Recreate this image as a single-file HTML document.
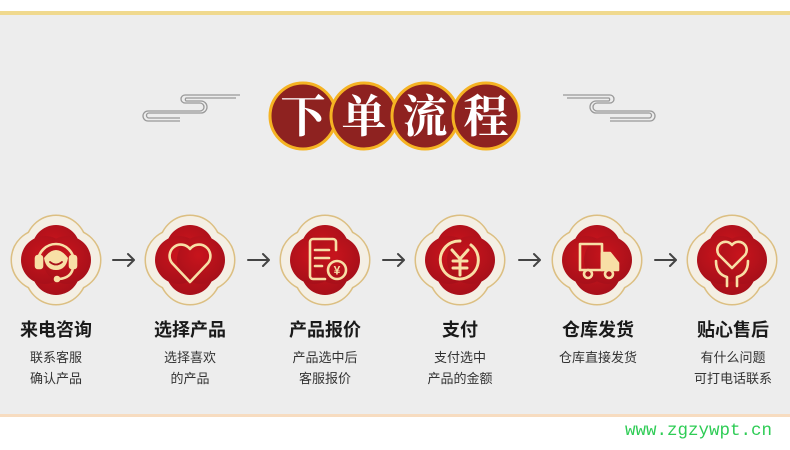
<!DOCTYPE html>
<html><head><meta charset="utf-8"><style>
body{margin:0;width:790px;height:450px;background:#fff;position:relative;overflow:hidden;font-family:"Liberation Sans","Noto Sans CJK SC",sans-serif}
.bg{position:absolute;left:0;top:11px;width:790px;height:406px;background:#ededed;border-top:4px solid #f0d98e;border-bottom:3px solid #f7dcc0;box-sizing:border-box}
.t{position:absolute;width:130px;text-align:center;color:#1a1a1a}
.h{font-size:18px;font-weight:bold;top:316px}
.s{font-size:13px;top:347px;line-height:21px;color:#333}
.wm{position:absolute;left:625px;top:421px;font-family:"Liberation Mono",monospace;font-size:17.5px;color:#2ecc55}
</style></head><body>
<div class="bg"></div>
<svg width="790" height="450" style="position:absolute;left:0;top:0">
<defs>
<g id="q"><circle cx="0" cy="-14" r="30"/><circle cx="0" cy="14" r="30"/><circle cx="-14" cy="0" r="30"/><circle cx="14" cy="0" r="30"/></g>
<g id="qi"><circle cx="0" cy="-11" r="24"/><circle cx="0" cy="11" r="24"/><circle cx="-11" cy="0" r="24"/><circle cx="11" cy="0" r="24"/></g>
<radialGradient id="rg" cx="0.45" cy="0.4" r="0.6"><stop offset="0" stop-color="#c8141c"/><stop offset="1" stop-color="#a8101a"/></radialGradient>
<g id="ic"><use href="#q" fill="none" stroke="#dcbf82" stroke-width="3"/><use href="#q" fill="#f4efe4"/><use href="#qi" fill="url(#rg)"/></g>
</defs>
<g fill="none" stroke="#999" stroke-width="1.3">
<path d="M240 95 H185 a4 4 0 0 0 0 8 H200 a4 4 0 0 1 0 8 H148 a5 5 0 0 0 0 10 H180"/>
<path d="M236 98 H186 a2 2 0 0 0 0 3 H201 a6 6 0 0 1 0 12 H149 a2.5 2.5 0 0 0 0 5 H180"/>
<path d="M563 95 H610 a4 4 0 0 1 0 8 H597 a4 4 0 0 0 0 8 H650 a5 5 0 0 1 0 10 H610"/>
<path d="M567 98 H609 a2 2 0 0 1 0 3 H596 a6 6 0 0 0 0 12 H649 a2.5 2.5 0 0 1 0 5 H610"/>
</g>
<g stroke="#f5b323" stroke-width="3" fill="#8e2220">
<circle cx="303" cy="116" r="33"/><circle cx="364" cy="116" r="33"/><circle cx="425" cy="116" r="33"/><circle cx="486" cy="116" r="33"/>
</g>
<g font-family="'Noto Serif CJK SC',serif" font-weight="bold" font-size="45" fill="#fff" text-anchor="middle">
<text x="303" y="132">下</text><text x="364" y="132">单</text><text x="425" y="132">流</text><text x="486" y="132">程</text>
</g>
<use href="#ic" x="56" y="260"/><use href="#ic" x="190" y="260"/><use href="#ic" x="325" y="260"/>
<use href="#ic" x="460" y="260"/><use href="#ic" x="597" y="260"/><use href="#ic" x="732" y="260"/>
<g fill="none" stroke="#f8dfa6" stroke-width="2.6" stroke-linecap="round" stroke-linejoin="round">
<path d="M38 262 a18 18 0 0 1 36 0"/><rect x="36" y="256" width="6" height="12" rx="2" fill="#f8dfa6"/><rect x="70" y="256" width="6" height="12" rx="2" fill="#f8dfa6"/>
<path d="M44 258 q12 -16 24 0 q-2 12 -12 12 q-10 0 -12 -12z" fill="#f8dfa6" stroke="none"/>
<path d="M50 262 q6 5 12 0" stroke="#a8101a" stroke-width="1.8"/>
<path d="M73 268 q-2 10 -14 11"/><circle cx="57" cy="279" r="2" fill="#f8dfa6"/>
<path d="M190 282 L172 263 a11 11 0 0 1 18 -14 a11 11 0 0 1 18 14 z"/>
<path d="M336 250 v-8 a3 3 0 0 0 -3 -3 h-20 a3 3 0 0 0 -3 3 v34 a3 3 0 0 0 3 3 h12"/><path d="M315 250h14M315 258h14M315 266h7"/><circle cx="337" cy="270" r="9"/><text x="337" y="274.5" font-size="12" font-weight="bold" fill="#f8dfa6" stroke="none" text-anchor="middle">¥</text>
<path d="M471 245 a19 19 0 1 1 -11 -4" stroke-width="3"/><path d="M452 250l8 9 8-9M453 261h14M453 268h14M460 259v16" stroke-width="3"/>
<rect x="580" y="244" width="22" height="26"/><path d="M602 253h8l8 10v7h-16z" fill="#f8dfa6"/><circle cx="588" cy="274" r="4" fill="#a8101a"/><circle cx="609" cy="274" r="4" fill="#a8101a"/>
<path d="M732 268 L719 255 a8 8 0 0 1 13 -10 a8 8 0 0 1 13 10 z"/><path d="M716 261 q0 13 11 16 v9M748 261 q0 13 -11 16 v9"/>
</g>
<g fill="none" stroke="#444" stroke-width="2" stroke-linecap="round" stroke-linejoin="round">
<path d="M113 260h21m-6-6l6 6-6 6"/><path d="M248 260h21m-6-6l6 6-6 6"/><path d="M383 260h21m-6-6l6 6-6 6"/><path d="M519 260h21m-6-6l6 6-6 6"/><path d="M655 260h21m-6-6l6 6-6 6"/>
</g>
</svg>
<div class="t h" style="left:-9px">来电咨询</div><div class="t s" style="left:-9px">联系客服<br>确认产品</div>
<div class="t h" style="left:125px">选择产品</div><div class="t s" style="left:125px">选择喜欢<br>的产品</div>
<div class="t h" style="left:260px">产品报价</div><div class="t s" style="left:260px">产品选中后<br>客服报价</div>
<div class="t h" style="left:395px">支付</div><div class="t s" style="left:395px">支付选中<br>产品的金额</div>
<div class="t h" style="left:533px">仓库发货</div><div class="t s" style="left:533px">仓库直接发货</div>
<div class="t h" style="left:668px">贴心售后</div><div class="t s" style="left:668px">有什么问题<br>可打电话联系</div>
<div class="wm">www.zgzywpt.cn</div>
</body></html>
